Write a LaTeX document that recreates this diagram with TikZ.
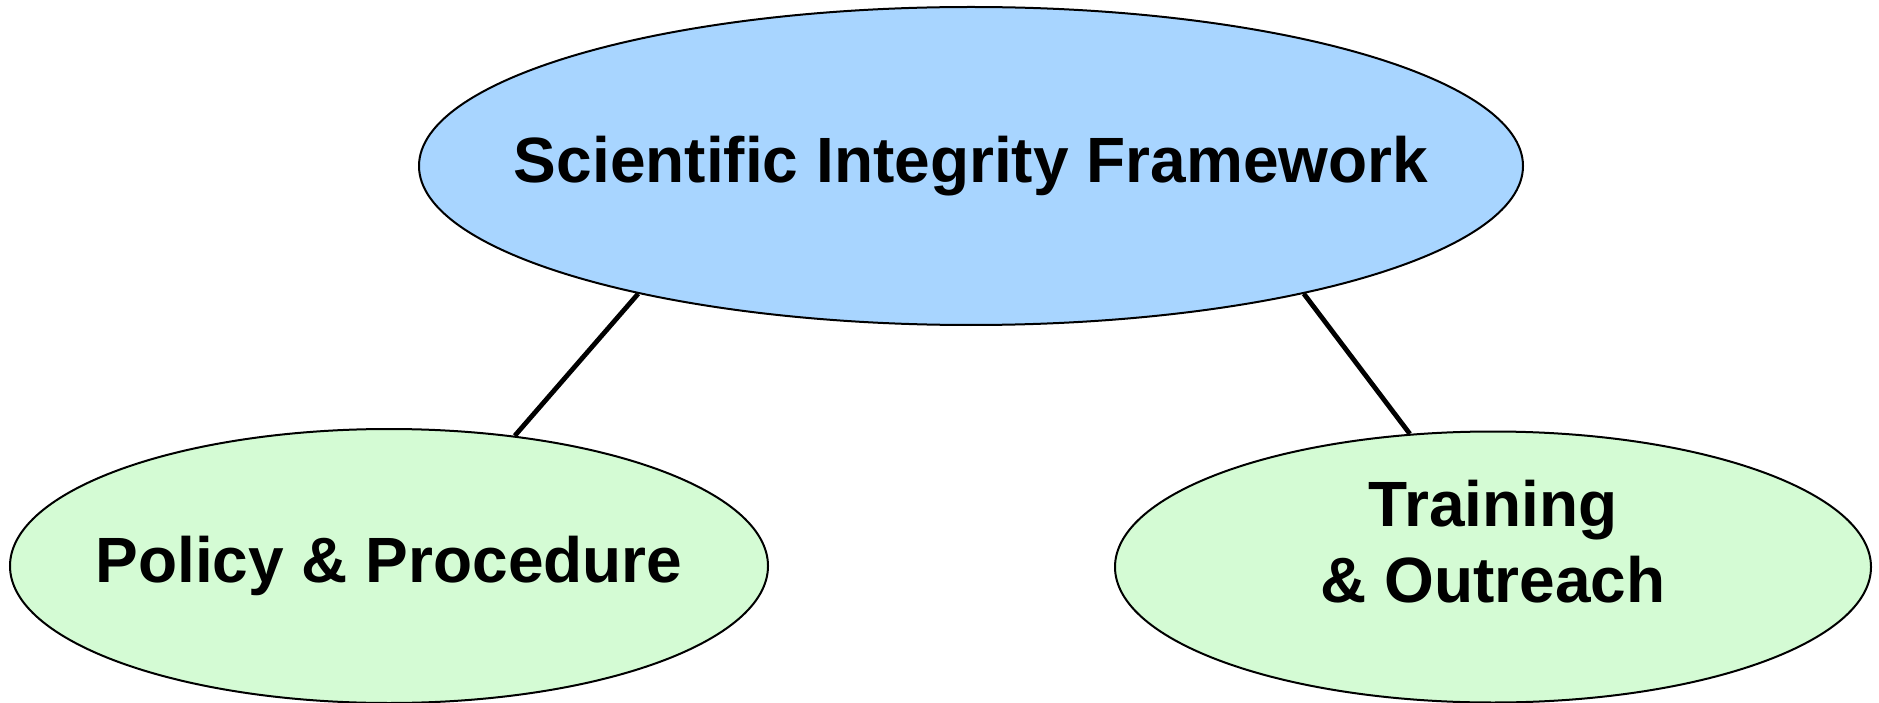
\documentclass[tikz,border=0pt]{standalone}
\usepackage{fontspec}
\setmainfont{Liberation Sans}
\usepackage{tikz}
\usetikzlibrary{shapes.geometric}
\definecolor{topblue}{HTML}{A8D5FF}
\definecolor{leafgreen}{HTML}{D4FBD4}

\begin{document}
\begin{tikzpicture}[x=1pt, y=-1pt,
  bubble/.style={ellipse, draw, line width=2pt, inner xsep=-200pt, inner ysep=0pt, align=center,
    font=\fontsize{64}{76}\selectfont\bfseries},
  link/.style={line width=4.8pt}]
\useasboundingbox (0,0) rectangle (1879,703);
\node[bubble, fill=topblue, minimum width=1104pt, minimum height=318pt] (frame) at (971,166) {Scientific Integrity Framework};
\node[bubble, fill=leafgreen, minimum width=758pt, minimum height=274pt] (policy) at (389,566) {Policy \& Procedure};
\node[bubble, fill=leafgreen, minimum width=756pt, minimum height=271pt, text depth=51pt] (train) at (1493,567) {Training\\\& Outreach};
\draw[link] (frame.201.8) -- (policy.46.4);
\draw[link] (frame.339.4) -- (train.122.9);
\end{tikzpicture}
\end{document}
